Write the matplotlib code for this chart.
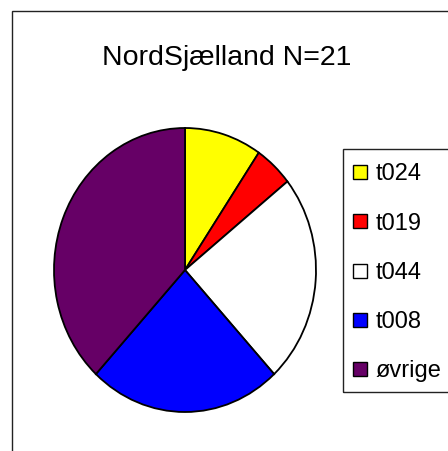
import matplotlib
matplotlib.use('Agg')
import matplotlib.pyplot as plt
from matplotlib.patches import Rectangle

plt.rcParams['font.family'] = ['Liberation Sans', 'DejaVu Sans']

title = 'NordSjælland N=21'
labels = ['t024', 't019', 't044', 't008', 'øvrige']
counts = [2, 1, 5, 5, 8]
colors = ['#FFFF00', '#FF0000', '#FFFFFF', '#0000FF', '#660066']

W, H = 448, 451
fig = plt.figure(figsize=(W / 100, H / 100), dpi=100)

def fx(px):
    return px / W

def fy(py):
    return 1 - py / H

# outer chart border (runs off right and bottom edge)
fig.add_artist(Rectangle((fx(12), -0.2), 2, fy(11) + 0.2, transform=fig.transFigure,
                         fill=False, edgecolor='#222222', linewidth=1.0))

fig.text(fx(227), fy(65), title, ha='center', va='baseline', fontsize=20.5)

# pie, slightly taller than wide like the original
cx, cy, rx, ry = 185, 270, 131, 142
ax = fig.add_axes([fx(cx - rx), fy(cy + ry), (2 * rx) / W, (2 * ry) / H])
wedges, _ = ax.pie(counts, colors=colors, startangle=90, counterclock=False,
                   wedgeprops=dict(edgecolor='black', linewidth=1.3))
for w in wedges:
    w.set_clip_on(False)
ax.set_aspect('auto')
ax.set_xlim(-1, 1)
ax.set_ylim(-1, 1)
ax.axis('off')

# legend box (also runs off the right edge)
fig.add_artist(Rectangle((fx(343), fy(392)), 2, fy(149) - fy(392), transform=fig.transFigure,
                         fill=False, edgecolor='#222222', linewidth=1.0))
for i, (lab, col) in enumerate(zip(labels, colors)):
    yc = 172 + i * 49.25
    fig.add_artist(Rectangle((fx(353), fy(yc + 7)), 14 / W, 14 / H, transform=fig.transFigure,
                             facecolor=col, edgecolor='black', linewidth=1.0))
    fig.text(fx(376), fy(yc + 8.5), lab, ha='left', va='baseline', fontsize=17)

fig.savefig('out.png', dpi=100)
